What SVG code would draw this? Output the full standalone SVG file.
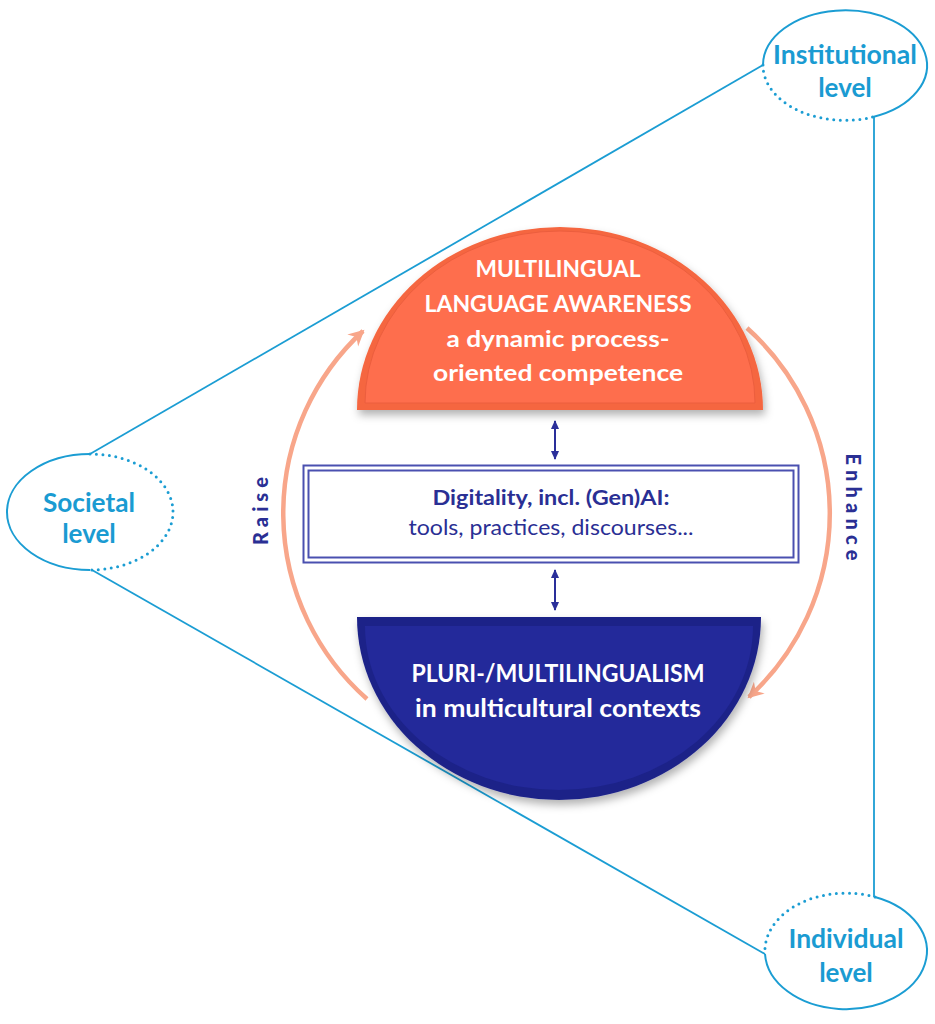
<svg xmlns="http://www.w3.org/2000/svg" width="935" height="1024" viewBox="0 0 935 1024">
<defs>
<style>
.lvl{font-family:Lato,"Open Sans",sans-serif;font-weight:bold;font-size:26px;fill:#1a9bd2;text-anchor:middle}
.ring{fill:none;stroke:#1b9dd3;stroke-width:2}
.dot{fill:none;stroke:#1b9dd3;stroke-width:3;stroke-linecap:round;stroke-dasharray:0 6.5}
.link{fill:none;stroke:#1b9dd3;stroke-width:1.8}
.wt{font-family:Lato,"Open Sans",sans-serif;font-weight:bold;fill:#ffffff;text-anchor:middle}
.nv{font-family:Lato,"Open Sans",sans-serif;fill:#2a2f94;text-anchor:middle}
.rot{font-family:Lato,"Open Sans",sans-serif;fill:#2a2f94;text-anchor:middle;font-size:20px;font-weight:900}
.cyc{fill:none;stroke:#f8a68a;stroke-width:4.5}
.dbl{stroke:#2a2f9a;stroke-width:2;fill:none}
</style>
<marker id="ah" markerUnits="userSpaceOnUse" markerWidth="22" markerHeight="22" refX="14" refY="8" orient="auto">
<path d="M0,0 L16,8 L0,16 L5,8 Z" fill="#f8a68a"/>
</marker>
<marker id="nv" markerUnits="userSpaceOnUse" markerWidth="12" markerHeight="12" refX="8" refY="4" orient="auto-start-reverse">
<path d="M0,0 L9,4 L0,8 Z" fill="#2a2f9a"/>
</marker>
<filter id="sh" x="-10%" y="-10%" width="120%" height="130%">
<feDropShadow dx="2" dy="5" stdDeviation="4" flood-color="#000" flood-opacity="0.3"/>
</filter>
</defs>

<g id="connectors">
<line class="link" x1="90" y1="454" x2="763" y2="65"/>
<line class="link" x1="92" y1="570" x2="765" y2="954"/>
<line class="link" x1="874" y1="117" x2="874" y2="897"/>
<path class="cyc" d="M367,699 A248,248 0 0 1 363,331" marker-end="url(#ah)"/>
<path class="cyc" d="M747,328 A249,249 0 0 1 749,697" marker-end="url(#ah)"/>
<line class="dbl" x1="555" y1="421" x2="555" y2="459" marker-start="url(#nv)" marker-end="url(#nv)"/>
<line class="dbl" x1="555" y1="570" x2="555" y2="610" marker-start="url(#nv)" marker-end="url(#nv)"/>
<text class="rot" transform="translate(268,511) rotate(-90)" textLength="68" lengthAdjust="spacing">Raise</text>
<text class="rot" transform="translate(846,507) rotate(90)" textLength="107" lengthAdjust="spacing">Enhance</text>
</g>

<g id="institutional">
<path class="ring" d="M873,117 A82,55 0 1 0 763,65"/>
<path class="dot" d="M763,65 A82,55 0 0 0 873,117"/>
<text class="lvl" x="845" y="64" textLength="144" lengthAdjust="spacingAndGlyphs">Institutional</text>
<text class="lvl" x="845" y="97">level</text>
</g>

<g id="societal">
<path class="ring" d="M90,454 A83,58 0 0 0 90,570"/>
<path class="dot" d="M90,454 A83,58 0 0 1 90,570"/>
<text class="lvl" x="89" y="512" textLength="92" lengthAdjust="spacingAndGlyphs">Societal</text>
<text class="lvl" x="89" y="543">level</text>
</g>

<g id="individual">
<path class="ring" d="M765,954 A81,58 0 1 0 875,897"/>
<path class="dot" d="M875,897 A81,58 0 0 0 765,954"/>
<text class="lvl" x="846" y="948" textLength="115" lengthAdjust="spacingAndGlyphs">Individual</text>
<text class="lvl" x="846" y="982">level</text>
</g>

<g id="awareness">
<path d="M357,410 A203,183 0 0 1 763,410 Z" fill="#f5663f" filter="url(#sh)"/>
<path d="M365,403 A195,172 0 0 1 755,403 Z" fill="#fe6e4d" stroke="#ec5e3e" stroke-width="1"/>
<text class="wt" x="558" y="277" font-size="22" textLength="165" lengthAdjust="spacingAndGlyphs">MULTILINGUAL</text>
<text class="wt" x="558" y="312" font-size="22" textLength="267" lengthAdjust="spacingAndGlyphs">LANGUAGE AWARENESS</text>
<text class="wt" x="558" y="347" font-size="23" textLength="223" lengthAdjust="spacingAndGlyphs">a dynamic process-</text>
<text class="wt" x="558" y="381" font-size="23" textLength="250" lengthAdjust="spacingAndGlyphs">oriented competence</text>
</g>

<g id="digitality">
<rect x="303.5" y="465.5" width="495" height="97" fill="#ffffff" stroke="#4a50b0" stroke-width="2"/>
<rect x="308.5" y="470.5" width="485" height="87" fill="none" stroke="#4a50b0" stroke-width="2"/>
<text class="nv" x="551" y="505" font-size="20" font-weight="bold" textLength="237" lengthAdjust="spacingAndGlyphs">Digitality, incl. (Gen)AI:</text>
<text class="nv" x="551" y="535" font-size="21" textLength="285" lengthAdjust="spacingAndGlyphs">tools, practices, discourses...</text>
</g>

<g id="plurilingualism">
<path d="M357,617 A202,183 0 0 0 761,617 Z" fill="#1c2288" filter="url(#sh)"/>
<path d="M365,626 A194,164 0 0 0 753,626 Z" fill="#23299a"/>
<text class="wt" x="558" y="682" font-size="24" textLength="293" lengthAdjust="spacingAndGlyphs">PLURI-/MULTILINGUALISM</text>
<text class="wt" x="558" y="717" font-size="24" textLength="286" lengthAdjust="spacingAndGlyphs">in multicultural contexts</text>
</g>
</svg>
